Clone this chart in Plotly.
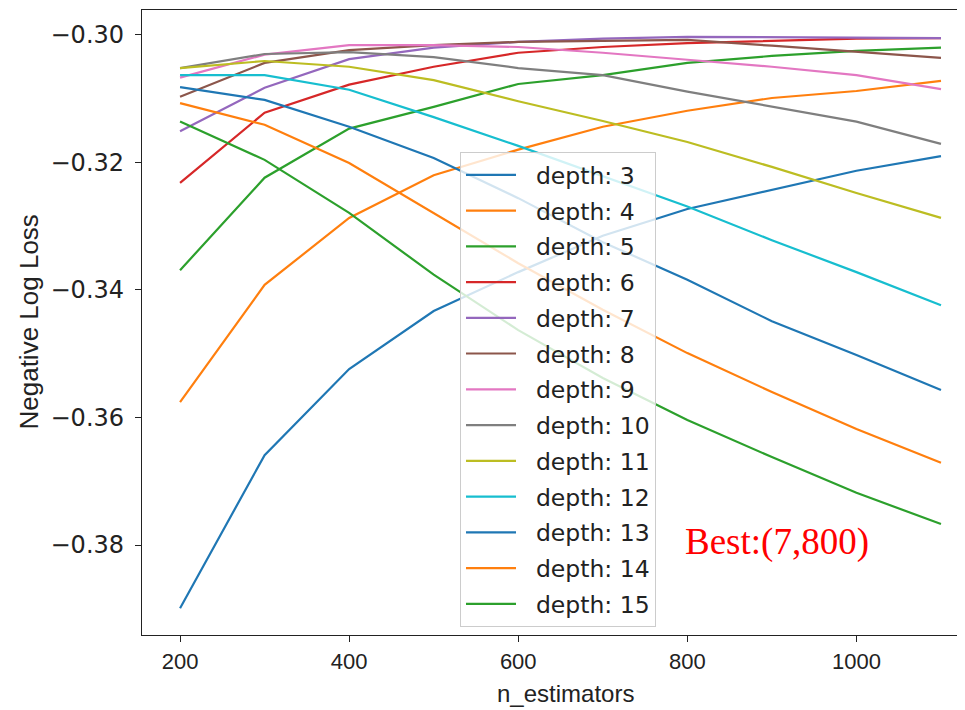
import plotly.graph_objects as go

n_estimators = [200, 300, 400, 500, 600, 700, 800, 900, 1000, 1100]
depths = [3, 4, 5, 6, 7, 8, 9, 10, 11, 12, 13, 14, 15]

d3 = [-0.3899, -0.3659, -0.3524, -0.3433, -0.3372, -0.3315, -0.3273, -0.3243, -0.3213, -0.3190]
d4 = [-0.3576, -0.3392, -0.3287, -0.3220, -0.3180, -0.3144, -0.3119, -0.3099, -0.3088, -0.3072]
d5 = [-0.3369, -0.3224, -0.3147, -0.3113, -0.3077, -0.3063, -0.3044, -0.3033, -0.3025, -0.3020]
d6 = [-0.3232, -0.3122, -0.3078, -0.3050, -0.3028, -0.3019, -0.3013, -0.3009, -0.3006, -0.3005]
d7 = [-0.3151, -0.3083, -0.3038, -0.3020, -0.3011, -0.3006, -0.3003, -0.3004, -0.3005, -0.3005]
d8 = [-0.3097, -0.3044, -0.3024, -0.3016, -0.3011, -0.3009, -0.3008, -0.3017, -0.3027, -0.3036]
d9 = [-0.3067, -0.3031, -0.3016, -0.3016, -0.3019, -0.3028, -0.3039, -0.3050, -0.3063, -0.3085]
d10 = [-0.3052, -0.3030, -0.3027, -0.3035, -0.3052, -0.3063, -0.3089, -0.3113, -0.3136, -0.3171]
d11 = [-0.3052, -0.3041, -0.3050, -0.3071, -0.3104, -0.3135, -0.3168, -0.3207, -0.3248, -0.3287]
d12 = [-0.3063, -0.3063, -0.3086, -0.3129, -0.3174, -0.3221, -0.3269, -0.3322, -0.3372, -0.3424]
d13 = [-0.3082, -0.3102, -0.3144, -0.3193, -0.3256, -0.3325, -0.3384, -0.3449, -0.3502, -0.3557]
d14 = [-0.3107, -0.3141, -0.3201, -0.3279, -0.3358, -0.3431, -0.3499, -0.3560, -0.3618, -0.3671]
d15 = [-0.3136, -0.3196, -0.3279, -0.3376, -0.3463, -0.3538, -0.3604, -0.3662, -0.3718, -0.3767]

series = [d3, d4, d5, d6, d7, d8, d9, d10, d11, d12, d13, d14, d15]

tab10 = ["#1f77b4", "#ff7f0e", "#2ca02c", "#d62728", "#9467bd",
         "#8c564b", "#e377c2", "#7f7f7f", "#bcbd22", "#17becf"]

best_label = "Best:(7,800)"
x_title = "n_estimators"
y_title = "Negative Log Loss"
x_ticks = [200, 400, 600, 800, 1000]
y_ticks = [-0.30, -0.32, -0.34, -0.36, -0.38]

NARROW = "Liberation Sans Narrow, Liberation Sans, Arial"
PAD = "\u00a0\u00a0"  # visual gap between legend line sample and label

fig = go.Figure()
for i, (d, vals) in enumerate(zip(depths, series)):
    fig.add_trace(go.Scatter(
        x=n_estimators, y=vals, mode="lines",
        name=f"{PAD}depth: {d}", legendgroup=f"g{d}",
        line=dict(color=tab10[i % 10], width=2.2),
    ))

fig.add_annotation(
    x=795, y=-0.3795, xref="x", yref="y", text=best_label,
    showarrow=False, xanchor="left", yanchor="middle",
    font=dict(family="Liberation Serif, Times New Roman, serif", size=37, color="#ff0000"),
)
fig.add_annotation(
    x=0.514, y=-0.0928, xref="paper", yref="paper", text=x_title,
    showarrow=False, xanchor="center", yanchor="middle",
    font=dict(family=NARROW, size=24, color="#222222"),
)
fig.add_annotation(
    x=-0.1385, y=0.5, xref="paper", yref="paper", text=y_title, textangle=-90,
    showarrow=False, xanchor="center", yanchor="middle",
    font=dict(family=NARROW, size=26, color="#222222"),
)

fig.update_layout(
    width=957, height=702,
    margin=dict(l=134, r=0, t=2, b=75),
    paper_bgcolor="white", plot_bgcolor="white",
    font=dict(family="DejaVu Sans", size=20, color="#222222"),
    showlegend=True,
    legend=dict(
        x=0.3864, y=0.7728, xanchor="left", yanchor="top",
        bgcolor="rgba(255,255,255,0.8)", bordercolor="#cccccc", borderwidth=1,
        font=dict(family="DejaVu Sans", size=23.5, color="#222222"),
        tracegroupgap=2.2, itemwidth=50,
    ),
)

fig.update_xaxes(
    range=[155, 1128.4], tickvals=x_ticks, ticktext=[str(v) for v in x_ticks],
    showgrid=False, zeroline=False,
    showline=True, linecolor="#222222", linewidth=1.3, mirror=True,
    ticks="outside", ticklen=6, tickcolor="#222222",
    tickfont=dict(family=NARROW, size=22),
)
fig.update_yaxes(
    range=[-0.3941, -0.2961], tickvals=y_ticks, tickformat=".2f",
    showgrid=False, zeroline=False,
    showline=True, linecolor="#222222", linewidth=1.3, mirror=False,
    ticks="outside", ticklen=6, tickcolor="#222222", ticklabelstandoff=6,
    tickfont=dict(family="DejaVu Sans", size=24),
)

fig.write_html("out.html")
